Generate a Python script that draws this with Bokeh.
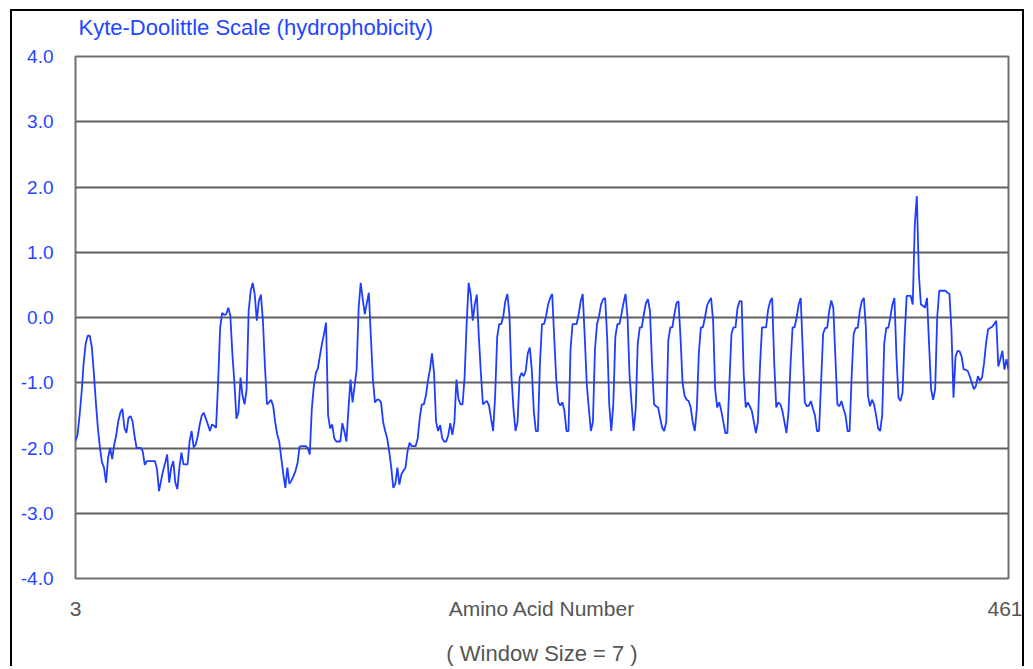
from bokeh.plotting import figure
from bokeh.models import (Range1d, FixedTicker, PrintfTickFormatter, ColumnDataSource,
                          LinearAxis)
from bokeh.embed import file_html
from bokeh.resources import INLINE

# ---------------- data (Kyte-Doolittle, window 7) ----------------
first_residue = 3
last_residue = 461

hydro_003_052 = [
    -1.89, -1.80, -1.50, -1.15, -0.70, -0.40, -0.28, -0.28, -0.45, -0.85,
    -1.30, -1.70, -2.00, -2.22, -2.30, -2.53, -2.15, -2.00, -2.17, -1.95,
    -1.80, -1.59, -1.46, -1.40, -1.69, -1.77, -1.54, -1.51, -1.59, -1.82,
    -2.00, -2.00, -2.00, -2.05, -2.26, -2.20, -2.20, -2.20, -2.20, -2.20,
    -2.32, -2.66, -2.50, -2.35, -2.23, -2.10, -2.53, -2.30, -2.20, -2.53,
]
hydro_053_102 = [
    -2.63, -2.30, -2.07, -2.25, -2.25, -2.25, -1.90, -1.74, -1.99, -1.95,
    -1.82, -1.64, -1.50, -1.46, -1.55, -1.64, -1.74, -1.64, -1.66, -1.69,
    -1.00, -0.16, 0.07, 0.04, 0.05, 0.15, 0.03, -0.55, -1.00, -1.55,
    -1.45, -0.92, -1.20, -1.33, -1.10, 0.10, 0.41, 0.53, 0.35, -0.05,
    0.25, 0.35, -0.05, -0.75, -1.33, -1.30, -1.26, -1.35, -1.60, -1.79,
]
hydro_103_152 = [
    -1.90, -2.15, -2.40, -2.61, -2.30, -2.55, -2.50, -2.43, -2.35, -2.23,
    -1.98, -1.97, -1.97, -1.97, -2.00, -2.10, -1.40, -1.05, -0.85, -0.78,
    -0.58, -0.40, -0.25, -0.08, -1.50, -1.70, -1.64, -1.85, -1.90, -1.90,
    -1.90, -1.62, -1.75, -1.90, -1.40, -0.95, -1.30, -1.05, -0.80, 0.15,
    0.53, 0.28, 0.05, 0.22, 0.38, -0.30, -0.95, -1.30, -1.26, -1.26,
]
hydro_153_202 = [
    -1.30, -1.60, -1.74, -1.85, -2.05, -2.30, -2.61, -2.55, -2.30, -2.56,
    -2.40, -2.35, -2.30, -2.05, -1.92, -1.97, -1.97, -1.97, -1.85, -1.54,
    -1.33, -1.33, -1.20, -0.97, -0.80, -0.55, -0.85, -1.60, -1.74, -1.65,
    -1.85, -1.90, -1.90, -1.80, -1.62, -1.80, -1.60, -0.95, -1.25, -1.33,
    -1.33, -0.92, -0.10, 0.53, 0.35, -0.05, 0.20, 0.35, -0.30, -0.85,
]
hydro_203_252 = [
    -1.33, -1.30, -1.28, -1.35, -1.55, -1.74, -1.20, -0.30, -0.10, -0.10,
    0.02, 0.25, 0.36, 0.05, -0.90, -1.40, -1.74, -1.60, -0.92, -0.85,
    -0.90, -0.82, -0.55, -0.46, -0.80, -1.45, -1.74, -1.74, -0.70, -0.10,
    -0.10, 0.02, 0.20, 0.30, 0.36, -0.31, -0.95, -1.30, -1.35, -1.30,
    -1.43, -1.74, -1.74, -0.49, -0.10, -0.10, -0.10, 0.05, 0.25, 0.36,
]
hydro_253_302 = [
    -0.31, -1.03, -1.40, -1.74, -1.60, -0.49, -0.10, 0.02, 0.20, 0.28,
    0.30, -0.31, -1.33, -1.74, -1.33, -0.30, -0.10, -0.10, 0.05, 0.22,
    0.36, 0.00, -0.90, -1.33, -1.74, -1.40, -0.40, -0.15, -0.15, 0.05,
    0.22, 0.28, 0.10, -0.70, -1.33, -1.36, -1.38, -1.54, -1.69, -1.74,
    -1.60, -0.35, -0.15, -0.15, 0.05, 0.22, 0.25, -0.31, -1.00, -1.20,
]
hydro_303_352 = [
    -1.26, -1.28, -1.38, -1.60, -1.74, -1.40, -0.54, -0.15, -0.15, 0.00,
    0.18, 0.25, 0.30, -0.05, -1.10, -1.38, -1.30, -1.43, -1.60, -1.77,
    -1.77, -1.00, -0.25, -0.15, -0.15, 0.15, 0.25, 0.25, -0.85, -1.38,
    -1.30, -1.36, -1.43, -1.60, -1.77, -1.60, -0.75, -0.15, -0.15, -0.15,
    0.12, 0.25, 0.30, -0.70, -1.38, -1.30, -1.33, -1.43, -1.60, -1.77,
]
hydro_353_402 = [
    -1.45, -0.72, -0.15, -0.15, 0.00, 0.20, 0.30, -0.50, -1.30, -1.36,
    -1.35, -1.28, -1.40, -1.50, -1.74, -1.74, -1.00, -0.25, -0.16, -0.16,
    0.10, 0.26, 0.15, -0.60, -1.33, -1.36, -1.28, -1.40, -1.50, -1.74,
    -1.74, -0.90, -0.25, -0.16, -0.16, 0.10, 0.25, 0.30, -0.16, -1.20,
    -1.36, -1.26, -1.33, -1.50, -1.70, -1.74, -1.50, -0.40, -0.16, -0.16,
]
hydro_403_452 = [
    0.00, 0.20, 0.30, -0.60, -1.23, -1.28, -1.15, -0.30, 0.33, 0.33,
    0.33, 0.20, 1.43, 1.86, 0.66, 0.20, 0.18, 0.15, 0.30, -0.40,
    -1.10, -1.26, -1.10, 0.00, 0.41, 0.41, 0.41, 0.41, 0.38, 0.36,
    -0.20, -1.23, -0.60, -0.51, -0.52, -0.60, -0.80, -0.80, -0.82, -0.90,
    -1.00, -1.10, -1.05, -0.90, -0.97, -0.92, -0.70, -0.39, -0.18, -0.16,
]
hydro_453_461 = [
    -0.14, -0.10, -0.05, -0.75, -0.64, -0.51, -0.80, -0.64, -0.80,
]

y_ticks = [-4, -3, -2, -1, 0, 1, 2, 3, 4]
x_ticks = [first_residue, (first_residue + last_residue) / 2, last_residue]
title_anchor = [91.5]   # residue under the centre of the title text

title_text = "Kyte-Doolittle Scale (hydrophobicity)"
x_label_text = "Amino Acid Number"
window_text = "( Window Size = 7 )"

# ---------------- build ----------------
values = (hydro_003_052 + hydro_053_102 + hydro_103_152 + hydro_153_202 +
          hydro_203_252 + hydro_253_302 + hydro_303_352 + hydro_353_402 +
          hydro_403_452 + hydro_453_461)
residues = list(range(first_residue, first_residue + len(values)))
src = ColumnDataSource(data=dict(x=residues, y=values))

BLUE_TXT = "#2446ff"
BLUE_LINE = "#1f3dff"
GRAY_TXT = "#555555"
FONT = "Liberation Sans"

p = figure(width=1014, height=657, output_backend="svg", toolbar_location=None,
           x_range=Range1d(first_residue, last_residue), y_range=Range1d(-4, 4),
           min_border_left=63, min_border_right=18, min_border_top=45,
           min_border_bottom=88)
p.styles = {"margin-left": "10px", "margin-top": "9px",
            "border-left": "2px solid black", "border-top": "2px solid black",
            "border-right": "2px solid black"}
p.title.visible = False
p.background_fill_color = "white"
p.border_fill_color = "white"
p.outline_line_color = "#707070"
p.outline_line_width = 2

p.line("x", "y", source=src, line_color=BLUE_LINE, line_width=1.8)

# grid
p.xgrid.grid_line_color = None
p.ygrid.ticker = FixedTicker(ticks=y_ticks)
p.ygrid.grid_line_color = "#606060"
p.ygrid.grid_line_width = 2

# y axis
ya = p.yaxis[0]
ya.ticker = FixedTicker(ticks=y_ticks)
ya.formatter = PrintfTickFormatter(format="%.1f")
ya.axis_line_color = None
ya.major_tick_line_color = None
ya.minor_tick_line_color = None
ya.major_tick_out = 0
ya.major_label_standoff = 22
ya.major_label_text_color = BLUE_TXT
ya.major_label_text_font = FONT
ya.major_label_text_font_size = "19px"

# x axis: end residues plus the centred axis name on one line
xa = p.xaxis[0]
xa.ticker = FixedTicker(ticks=x_ticks)
xa.major_label_overrides = {x_ticks[1]: x_label_text}
xa.axis_line_color = None
xa.major_tick_line_color = None
xa.minor_tick_line_color = None
xa.major_tick_out = 0
xa.major_label_standoff = 18
xa.major_label_text_color = GRAY_TXT
xa.major_label_text_font = FONT
xa.major_label_text_font_size = "21px"
xa.axis_label = window_text
xa.axis_label_text_color = GRAY_TXT
xa.axis_label_text_font = FONT
xa.axis_label_text_font_size = "22px"
xa.axis_label_text_font_style = "normal"
xa.axis_label_standoff = 18

# chart title as a label of an axis above the frame
ta = LinearAxis(ticker=FixedTicker(ticks=title_anchor),
                major_label_overrides={title_anchor[0]: title_text})
ta.axis_line_color = None
ta.major_tick_line_color = None
ta.minor_tick_line_color = None
ta.major_tick_out = 0
ta.major_tick_in = 0
ta.major_label_standoff = 17
ta.major_label_text_color = BLUE_TXT
ta.major_label_text_font = FONT
ta.major_label_text_font_size = "22px"
p.add_layout(ta, "above")

open("out.html", "w").write(file_html(p, INLINE))
